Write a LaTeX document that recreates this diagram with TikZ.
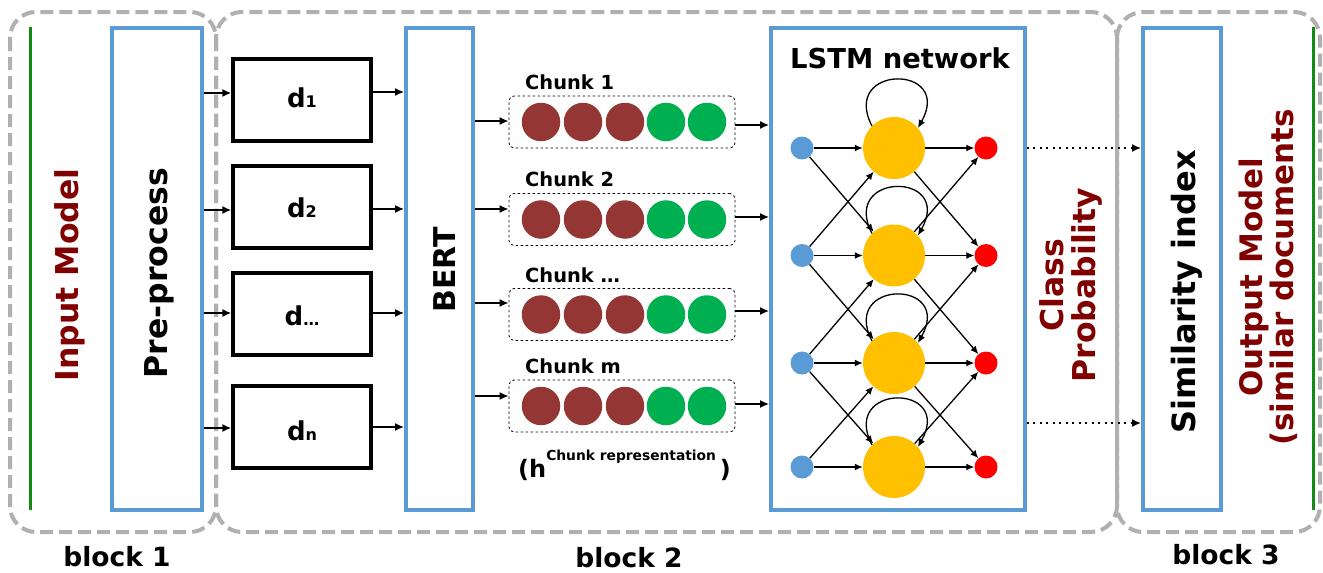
\documentclass[tikz,border=0pt]{standalone}
\usepackage{fontspec}
\setmainfont{DejaVu Sans}
\usetikzlibrary{arrows.meta,calc}
\definecolor{boxblue}{HTML}{5B9BD5}
\definecolor{darkred}{HTML}{800000}
\definecolor{chunkbrown}{HTML}{943634}
\definecolor{chunkgreen}{HTML}{00B050}
\definecolor{nodeyellow}{HTML}{FFC000}
\definecolor{nodered}{HTML}{FF0000}
\definecolor{blockgray}{HTML}{B0B0B0}
\definecolor{linegreen}{HTML}{138A13}
\tikzset{
  blockframe/.style={draw=blockgray, line width=4pt, dash pattern=on 13pt off 6pt, rounded corners=26pt},
  bluebox/.style={draw=boxblue, line width=3.8pt, minimum width=#1, minimum height=482pt, inner sep=0pt},
  dbox/.style={draw=black, line width=3.4pt, minimum width=138pt, minimum height=82pt, inner sep=0pt},
  chunkbox/.style={draw=black, line width=0.8pt, dash pattern=on 2.5pt off 2.5pt, rounded corners=5pt, minimum width=226pt, minimum height=52pt, inner sep=0pt},
  ball/.style={circle, fill=#1, minimum size=38.5pt, inner sep=0pt},
  bnode/.style={circle, fill=boxblue, minimum size=23pt, inner sep=0pt},
  ynode/.style={circle, fill=nodeyellow, minimum size=62pt, inner sep=0pt},
  rnode/.style={circle, fill=nodered, minimum size=23pt, inner sep=0pt},
  arr/.style={-{Latex[length=9pt,width=8pt]}, line width=1.6pt},
  narr/.style={-{Latex[length=8pt,width=7pt]}, line width=1.3pt},
  darr/.style={-{Latex[length=9pt,width=8pt]}, line width=2pt, dash pattern=on 2pt off 4.5pt},
  txt/.style={inner sep=0pt, anchor=base, font=\bfseries\fontsize{#1}{#1}\selectfont},
  rtxt/.style={inner sep=0pt, anchor=base, rotate=90, font=\bfseries\fontsize{#1}{#1}\selectfont},
  greenline/.style={draw=linegreen, line width=3pt}
}
\begin{document}
\begin{tikzpicture}[x=1pt,y=1pt]
\useasboundingbox (0,0) rectangle (1323,-573);
% block frames
\draw[blockframe] (10,-12) rectangle (216,-532);
\draw[blockframe] (216,-12) rectangle (1117,-532);
\draw[blockframe] (1117,-12) rectangle (1320,-532);
% green lines
\coordinate (g1a) at (30,-27); \coordinate (g1b) at (30,-510);
\coordinate (g2a) at (1313,-27); \coordinate (g2b) at (1313,-510);
\draw[greenline] (g1a) -- (g1b);
\draw[greenline] (g2a) -- (g2b);
% big boxes
\node[bluebox=90pt] (pre) at (157,-269) {};
\node[bluebox=67pt] (bert) at (439.5,-269) {};
\node[bluebox=254pt] (lstm) at (898,-269) {};
\node[bluebox=78pt] (sim) at (1182,-269) {};
% rotated texts
\node[rtxt=31.5pt, text=darkred] (inp) at (78,-275) {Input Model};
\node[rtxt=31.5pt] (pret) at (167,-273) {Pre-process};
\node[rtxt=30pt] (bertt) at (455,-270) {BERT};
\node[rtxt=31.5pt, text=darkred] (cls) at (1063,-285) {Class};
\node[rtxt=31.5pt, text=darkred] (prob) at (1095,-285) {Probability};
\node[rtxt=32pt] (simt) at (1195,-292) {Similarity index};
\node[rtxt=31pt, text=darkred] (outm) at (1262,-277) {Output Model};
\node[rtxt=31pt, text=darkred] (simd) at (1293,-277.5) {(similar documents};
% d boxes
\node[dbox] (d1) at (302,-100) {};
\node[dbox] (d2) at (302,-207) {};
\node[dbox] (d3) at (302,-314) {};
\node[dbox] (d4) at (302,-427) {};
\node[txt=26pt] (d1t) at (302,-107) {d{\fontsize{16pt}{16pt}\selectfont 1}};
\node[txt=26pt] (d2t) at (302,-217) {d{\fontsize{16pt}{16pt}\selectfont 2}};
\node[txt=26pt] (d3t) at (302,-325) {d{\fontsize{16pt}{16pt}\selectfont \dots}};
\node[txt=26pt] (d4t) at (302,-440) {d{\fontsize{16pt}{16pt}\selectfont n}};
\draw[arr] ([yshift=7pt]d1.west -| pre.east) -- ([yshift=7pt]d1.west);
\draw[arr] ([yshift=-3pt]d2.west -| pre.east) -- ([yshift=-3pt]d2.west);
\draw[arr] ([yshift=1pt]d3.west -| pre.east) -- ([yshift=1pt]d3.west);
\draw[arr] ([yshift=-1pt]d4.west -| pre.east) -- ([yshift=-1pt]d4.west);
\draw[arr] ([yshift=8pt]d1.east) -- ([yshift=8pt]d1.east -| bert.west);
\draw[arr] ([yshift=-2pt]d2.east) -- ([yshift=-2pt]d2.east -| bert.west);
\draw[arr] ([yshift=1pt]d3.east) -- ([yshift=1pt]d3.east -| bert.west);
\draw[arr] (d4.east) -- (d4.east -| bert.west);
% chunks
\foreach \i/\y/\lab/\ly in {1/122/1/89, 2/219.5/2/186, 3/314.5/\dots/282, 4/406/m/373}{
  \node[chunkbox] (c\i) at (622,-\y) {};
  \node[ball=chunkbrown] (c\i a) at (541,-\y) {};
  \node[ball=chunkbrown] (c\i b) at (583,-\y) {};
  \node[ball=chunkbrown] (c\i c) at (625,-\y) {};
  \node[ball=chunkgreen] (c\i d) at (666,-\y) {};
  \node[ball=chunkgreen] (c\i e) at (707,-\y) {};
  \node[txt=19.4pt, anchor=base west] (c\i t) at (525,-\ly) {Chunk \lab};
}
\draw[arr] ([yshift=1pt]c1.west -| bert.east) -- ([yshift=1pt]c1.west);
\draw[arr] ([yshift=10.5pt]c2.west -| bert.east) -- ([yshift=10.5pt]c2.west);
\draw[arr] ([yshift=11.5pt]c3.west -| bert.east) -- ([yshift=11.5pt]c3.west);
\draw[arr] ([yshift=10pt]c4.west -| bert.east) -- ([yshift=10pt]c4.west);
\draw[arr] ([yshift=-3pt]c1.east) -- ([yshift=-3pt]c1.east -| lstm.west);
\draw[arr] ([yshift=2.5pt]c2.east) -- ([yshift=2.5pt]c2.east -| lstm.west);
\draw[arr] ([yshift=3.5pt]c3.east) -- ([yshift=3.5pt]c3.east -| lstm.west);
\draw[arr] ([yshift=2pt]c4.east) -- ([yshift=2pt]c4.east -| lstm.west);
\node[inner sep=0pt, anchor=base west, font=\bfseries] (hrep) at (518,-477)
  {{\fontsize{24pt}{24pt}\selectfont (h}{\fontsize{13.8pt}{13.8pt}\selectfont\raisebox{17pt}{Chunk representation}}{\fontsize{24pt}{24pt}\selectfont\,)}};
% LSTM network
\node[txt=27.4pt] (lstmt) at (900,-68) {LSTM network};
\foreach \i/\y in {1/148, 2/255.5, 3/363, 4/467}{
  \node[bnode] (b\i) at (802,-\y) {};
  \node[ynode] (y\i) at (894,-\y) {};
  \node[rnode] (r\i) at (986,-\y) {};
}
\foreach \i in {1,2,3,4}{
  \draw[narr] (b\i) -- (y\i);
  \draw[narr] (y\i) -- (r\i);
  \draw[narr] (y\i.135) .. controls +(-32,62) and +(36,64) .. (y\i.40);
}
\foreach \i/\j in {1/2, 2/3, 3/4}{
  \draw[narr] (b\i) -- (y\j);
  \draw[narr] (b\j) -- (y\i);
  \draw[narr] (y\i) -- (r\j);
  \draw[narr] (y\j) -- (r\i);
}
% dotted arrows
\draw[darr] ([yshift=121pt]lstm.east) -- ([yshift=121pt]lstm.east -| sim.west);
\draw[darr] ([yshift=-154pt]lstm.east) -- ([yshift=-154pt]lstm.east -| sim.west);
% block labels
\node[txt=26.5pt] (bl1) at (117,-566) {block 1};
\node[txt=26.5pt] (bl2) at (629,-567) {block 2};
\node[txt=26.5pt] (bl3) at (1226,-564) {block 3};
\end{tikzpicture}
\end{document}
